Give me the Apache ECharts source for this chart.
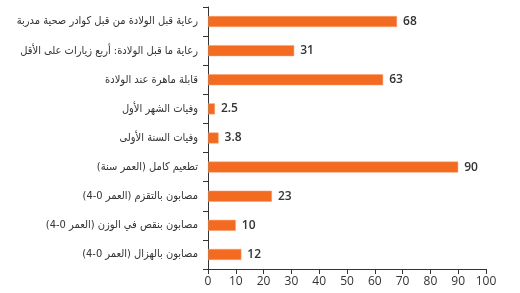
<!DOCTYPE html>
<html>
<head>
<meta charset="utf-8">
<script src="https://cdn.jsdelivr.net/npm/echarts@6/dist/echarts.min.js"></script>
<style>
html,body{margin:0;padding:0;background:#fff;}
#c{width:520px;height:293px;}
</style>
</head>
<body>
<div id="c"></div>
<script>
var categories = [
  'رعاية قبل الولادة من قبل كوادر صحية مدربة',
  'رعاية ما قبل الولادة: أربع زيارات على الأقل',
  'قابلة ماهرة عند الولادة',
  'وفيات الشهر الأول',
  'وفيات السنة الأولى',
  'تطعيم كامل (العمر سنة)',
  'مصابون بالتقزم (العمر 0-4)',
  'مصابون بنقص في الوزن (العمر 0-4)',
  'مصابون بالهزال (العمر 0-4)'
];
var values = [68, 31, 63, 2.5, 3.8, 90, 23, 10, 12];
var xTicks = [0, 10, 20, 30, 40, 50, 60, 70, 80, 90, 100];

var chart = echarts.init(document.getElementById('c'), null, {renderer: 'canvas'});
var numFont = 'Open Sans, Noto Sans, sans-serif';
var arFont = 'DejaVu Sans Condensed, DejaVu Sans, sans-serif';
chart.setOption({
  animation: false,
  grid: {left: 208, right: 34, top: 7, bottom: 24, containLabel: false, outerBoundsMode: 'none'},
  xAxis: {
    type: 'value', min: xTicks[0], max: xTicks[xTicks.length - 1], interval: 10,
    splitLine: {show: false},
    axisLine: {show: true, lineStyle: {color: '#333', width: 1}},
    axisTick: {show: true, length: 5, lineStyle: {color: '#333'}},
    axisLabel: {color: '#333', fontSize: 12, fontFamily: numFont, margin: 7}
  },
  yAxis: {
    type: 'category', data: categories, inverse: true,
    axisLine: {show: true, lineStyle: {color: '#333', width: 1}},
    axisTick: {show: true, length: 5, lineStyle: {color: '#333'}},
    axisLabel: {color: '#333', fontSize: 11, fontFamily: arFont, margin: 10}
  },
  series: [{
    type: 'bar', data: values, barWidth: 11,
    itemStyle: {color: '#F26B21', borderColor: '#F7A070', borderWidth: 0.5},
    label: {show: true, position: 'right', distance: 6, color: '#333', fontSize: 12, fontWeight: 600, fontFamily: numFont}
  }]
});
</script>
</body>
</html>
